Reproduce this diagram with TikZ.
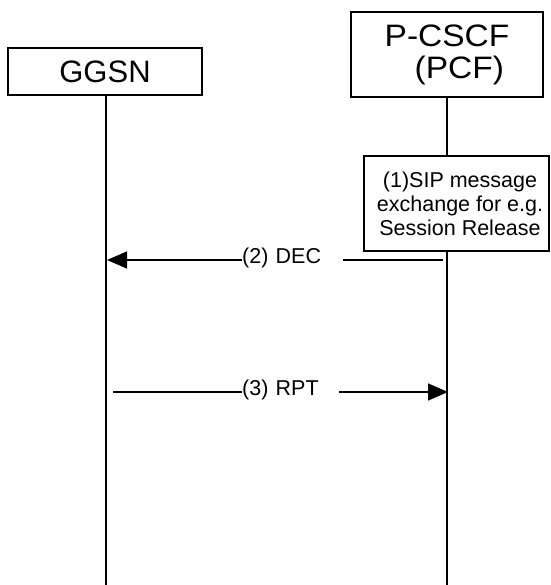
\documentclass[tikz,border=0pt]{standalone}
\usepackage{fontspec}
\setmainfont{Liberation Sans}
\usetikzlibrary{arrows.meta}
\begin{document}
\begin{tikzpicture}[x=1pt,y=-1pt,
  entity/.style={draw,line width=1.4pt,inner sep=0pt,font=\fontsize{31}{32}\selectfont},
  life/.style={line width=1.8pt},
  msg/.style={line width=1.4pt,-{Triangle[length=20pt,width=17pt]}},
  msglabel/.style={fill=white,inner sep=0pt,anchor=west,font=\fontsize{21.5}{24}\selectfont},
  notebox/.style={draw,fill=white,line width=1.4pt,inner sep=0pt,align=center,font=\fontsize{21.5}{24}\selectfont}]
\useasboundingbox (0,0) rectangle (550,585);
% entities
\node[entity,minimum width=194pt,minimum height=47pt] (ggsn) at (105,71.5) {\raisebox{-3pt}{GGSN}};
\node[entity,minimum width=192pt,minimum height=85pt,align=left] (pcscf) at (447,54.5) {\scalebox{1.08}[1]{P-CSCF}\\\hspace{30pt}\scalebox{1.08}[1]{(PCF)}};
% lifeline end points
\coordinate (gend) at (106,585);
\coordinate (pend) at (447,585);
\draw[life] (106,95) coordinate (gtop) -- (gend);
\draw[life] (447,97) coordinate (ptop) -- (pend);
% note box
\node[notebox,minimum width=185pt,minimum height=95pt] (sip) at (456.5,203.5) {\hspace{7pt}(1)SIP message\\\hspace{7pt}exchange for e.g.\\\hspace{7pt}Session Release};
% messages
\coordinate (g2) at (107,260);
\coordinate (p2) at (443,260);
\draw[msg] (p2) -- (g2);
\node[msglabel,text width=101pt,align=left] (l2) at (242,258) {(2) DEC};
\coordinate (g3) at (113,392);
\coordinate (p3) at (448,392);
\draw[msg] (g3) -- (p3);
\node[msglabel,text width=97pt,align=left] (l3) at (242,390) {(3) RPT};
\end{tikzpicture}
\end{document}
